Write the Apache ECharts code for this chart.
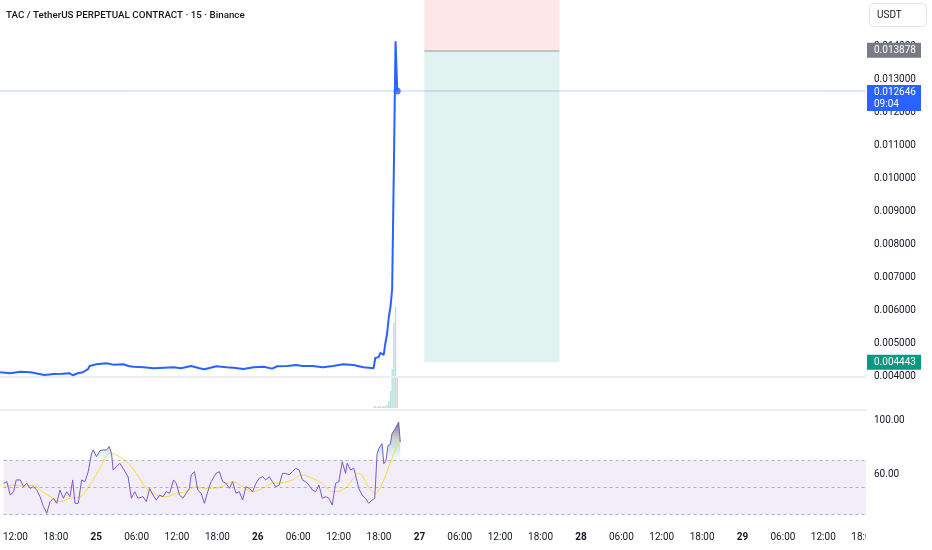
<!DOCTYPE html>
<html><head><meta charset="utf-8">
<script src="https://cdn.jsdelivr.net/npm/echarts@6/dist/echarts.min.js"></script>
<style>html,body{margin:0;padding:0;background:#fff}#c{width:932px;height:550px}</style>
</head><body><div id="c"></div>
<script>
// time unit: hours since 24th 00:00 (15-minute bars)
const titleText = 'TAC / TetherUS PERPETUAL CONTRACT \u00b7 15 \u00b7 Binance';
const priceHours = [10.25, 11.75, 13.25, 14.75, 16.25, 16.75, 18.25, 19.5, 20.5, 21, 21.75, 22.5, 23.25, 23.5, 24.5, 26, 27, 28.5, 29.25, 30, 31.5, 33, 34.5, 36, 37, 38.5, 39.75, 40.5, 42.25, 43.75, 44.75, 46.25, 47.75, 49.25, 50.5, 51.25, 52.75, 54, 55, 56.5, 58, 59.5, 61, 62.5, 64, 65.5, 65.75, 66.25, 66.5, 66.75, 67, 67.25, 67.5, 67.75, 68, 68.25, 68.5, 68.75, 69];
const prices = [0.004142, 0.004112, 0.004160, 0.004142, 0.004082, 0.004060, 0.004091, 0.004100, 0.004112, 0.004051, 0.004112, 0.004142, 0.004233, 0.004332, 0.004384, 0.004414, 0.004372, 0.004384, 0.004332, 0.004311, 0.004293, 0.004263, 0.004281, 0.004293, 0.004263, 0.004332, 0.004263, 0.004233, 0.004323, 0.004293, 0.004281, 0.004242, 0.004293, 0.004311, 0.004251, 0.004323, 0.004332, 0.004363, 0.004332, 0.004332, 0.004293, 0.004332, 0.004384, 0.004363, 0.004293, 0.004263, 0.004574, 0.004600, 0.004725, 0.004725, 0.004665, 0.005027, 0.005299, 0.005813, 0.006115, 0.006659, 0.010314, 0.014151, 0.012646];
const volHours = [65.5, 65.75, 66, 66.25, 66.5, 66.75, 67, 67.25, 67.5, 67.75, 68, 68.25, 68.5, 68.75, 69];
const volumes = [1, 2, 1, 2, 2, 1, 2, 2, 3, 7, 17, 39, 85, 101, 30];
const volDown = [0, 0, 1, 0, 0, 1, 0, 0, 0, 0, 0, 0, 0, 0, 1];
const rsiHours = [10.24, 10.73, 11.23, 11.72, 12.11, 12.71, 13.20, 13.69, 14.18, 14.68, 15.17, 15.66, 16.16, 16.65, 17.14, 17.64, 18.13, 18.62, 19.12, 19.61, 20.10, 20.50, 20.84, 21.33, 21.83, 22.32, 22.81, 23.31, 23.55, 24.05, 24.54, 25.03, 25.53, 25.92, 26.27, 26.51, 27.00, 27.50, 27.99, 28.73, 29.22, 29.72, 30.21, 30.95, 31.44, 31.94, 32.43, 32.92, 33.42, 33.91, 34.40, 34.90, 35.49, 35.88, 36.37, 36.87, 37.36, 37.85, 38.10, 38.59, 39.09, 39.58, 40.07, 40.57, 41.06, 41.80, 42.29, 42.78, 43.28, 43.77, 44.26, 44.76, 45.25, 45.74, 46.24, 46.73, 47.22, 47.72, 48.21, 48.70, 49.19, 49.69, 50.18, 50.67, 51.17, 51.66, 52.15, 52.65, 53.14, 53.63, 54.13, 54.62, 55.11, 55.60, 56.10, 56.59, 57.08, 57.58, 58.07, 58.56, 59.06, 59.55, 60.04, 60.54, 61.03, 61.28, 61.77, 62.26, 62.51, 63.00, 63.49, 63.99, 64.48, 64.97, 65.37, 65.71, 65.97, 66.46, 66.71, 67.05, 67.34, 67.68, 67.93, 68.42, 68.92, 69.16];
const rsiValues = [53.1, 54.3, 44.4, 46.9, 55.6, 55.6, 50.6, 53.1, 49.4, 50.6, 48.1, 43.2, 35.8, 30.9, 39.5, 42.0, 38.3, 48.1, 42.0, 46.9, 43.2, 55.6, 38.3, 38.3, 55.6, 54.3, 61.7, 75.3, 77.8, 72.8, 77.3, 77.8, 77.8, 80.3, 75.3, 63.0, 65.4, 67.9, 64.2, 58.0, 42.0, 46.9, 42.0, 43.2, 39.5, 49.4, 44.4, 40.7, 44.4, 43.2, 46.9, 45.7, 55.6, 53.1, 44.4, 42.0, 45.7, 49.4, 59.3, 61.7, 48.1, 45.7, 38.3, 46.9, 54.3, 60.5, 61.7, 54.3, 53.1, 49.4, 54.3, 45.7, 46.9, 40.7, 50.6, 49.4, 46.9, 53.1, 56.8, 58.0, 55.6, 58.0, 54.3, 50.6, 51.8, 60.5, 60.5, 59.3, 61.7, 64.2, 63.0, 55.6, 54.3, 51.8, 48.1, 46.9, 51.8, 42.0, 43.2, 42.0, 37.0, 53.1, 54.3, 69.1, 60.5, 67.9, 63.0, 64.2, 59.3, 49.4, 44.4, 42.0, 38.3, 40.7, 42.0, 74.6, 78.8, 82.5, 67.6, 70.1, 81.2, 82.0, 89.9, 93.6, 98.5, 83.7];
const maHours = [10.24, 11.72, 13.20, 14.68, 15.66, 17.14, 18.62, 20.10, 21.58, 23.06, 24.54, 26.02, 27.00, 28.48, 29.96, 31.44, 32.92, 34.40, 35.88, 37.36, 38.84, 40.32, 42.29, 44.26, 45.74, 47.22, 48.70, 50.18, 51.66, 53.14, 54.62, 56.10, 57.58, 59.06, 60.54, 62.02, 63.00, 63.50, 64.45, 65.47, 66.46, 67.44, 68.18, 68.92, 69.16];
const maValues = [50.6, 51.8, 51.0, 51.8, 48.1, 43.2, 39.5, 42.0, 43.2, 51.8, 64.2, 75.3, 74.0, 69.1, 60.5, 49.4, 44.4, 43.2, 45.7, 46.9, 50.6, 49.4, 50.0, 54.3, 50.6, 46.9, 49.4, 53.1, 53.6, 55.6, 59.3, 56.8, 53.1, 46.9, 48.1, 55.6, 60.5, 59.0, 50.4, 45.9, 52.9, 65.2, 75.0, 82.5, 84.2];
const xTicks = [12, 18, 24, 30, 36, 42, 48, 54, 60, 66, 72, 78, 84, 90, 96, 102, 108, 114, 120, 126, 132, 138];
const priceTicks = [0.004, 0.005, 0.006, 0.007, 0.008, 0.009, 0.010, 0.011, 0.012, 0.013, 0.014];
const rsiTicks = [60, 100];
const rsiLevels = [70, 50, 30];
const entryPrice = 0.013878, targetPrice = 0.004443, stopPrice = 0.0160;
const guidePrice = 0.004;
const boxHours = [73, 93];
const countdown = '09:04';
const quote = 'USDT';

const X_MIN = 10.24, X_MAX = 138.34;
const P_MIN = 0.003, P_MAX = 0.0154;
const lastH = priceHours[priceHours.length - 1], lastP = prices[prices.length - 1];
const FONT = 'Roboto, "Noto Sans", sans-serif';
const TXT = '#131722';

const chart = echarts.init(document.getElementById('c'));
const zip = (a, b) => a.map((v, i) => [v, b[i]]);
const xAxisBase = {type: 'value', min: X_MIN, max: X_MAX, splitLine: {show: false}, axisTick: {show: false}};

chart.setOption({
  animation: false,
  backgroundColor: '#fff',
  grid: [
    {left: 0, right: 66, top: 0, height: 410},
    {left: 0, right: 66, top: 307, height: 101},
    {left: 0, right: 66, top: 410, height: 110}
  ],
  xAxis: [
    Object.assign({}, xAxisBase, {gridIndex: 0, axisLabel: {show: false}, axisLine: {show: true, lineStyle: {color: '#eceef2', width: 2}}}),
    Object.assign({}, xAxisBase, {gridIndex: 1, show: false}),
    Object.assign({}, xAxisBase, {gridIndex: 2, axisLine: {show: false},
      axisLabel: {customValues: xTicks, margin: 12, fontSize: 10, fontFamily: FONT, color: TXT,
        formatter: v => (v % 24 === 0) ? '{b|' + (24 + v / 24) + '}' : String(v % 24).padStart(2, '0') + ':00',
        rich: {b: {fontWeight: 'bold', fontSize: 10, fontFamily: FONT, color: TXT}}}})
  ],
  yAxis: [
    {type: 'value', gridIndex: 0, position: 'right', min: P_MIN, max: P_MAX, splitLine: {show: false}, axisLine: {show: false}, axisTick: {show: false},
      axisLabel: {customValues: priceTicks, margin: 8, fontSize: 10, fontFamily: FONT, color: TXT, formatter: v => v.toFixed(6)}},
    {type: 'value', gridIndex: 1, min: 0, max: Math.max(...volumes), show: false},
    {type: 'value', gridIndex: 2, position: 'right', min: 25.93, max: 107.41, splitLine: {show: false}, axisLine: {show: false}, axisTick: {show: false},
      axisLabel: {customValues: rsiTicks, margin: 8, fontSize: 10, fontFamily: FONT, color: TXT, formatter: v => v.toFixed(2)}}
  ],
  series: [
    {type: 'line', xAxisIndex: 0, yAxisIndex: 0, data: [[X_MIN, lastP], [X_MAX, lastP]], showSymbol: false, symbol: 'none',
      lineStyle: {color: 'rgba(41,98,255,0.3)', width: 1}, z: 3, silent: true},
    {type: 'line', xAxisIndex: 0, yAxisIndex: 0, data: zip(priceHours, prices), showSymbol: false, symbol: 'none',
      lineStyle: {color: '#2962FF', width: 2}, z: 5, silent: true,
      markArea: {silent: true, data: [
        [{xAxis: boxHours[0], yAxis: entryPrice, itemStyle: {color: 'rgba(242,54,69,0.12)'}}, {xAxis: boxHours[1], yAxis: Math.min(stopPrice, P_MAX)}],
        [{xAxis: boxHours[0], yAxis: targetPrice, itemStyle: {color: 'rgba(8,153,129,0.12)'}}, {xAxis: boxHours[1], yAxis: entryPrice}]
      ]},
      markLine: {silent: true, precision: 6, symbol: ['none', 'none'], label: {show: false}, data: [
        {yAxis: guidePrice, lineStyle: {color: '#eceef1', type: 'solid', width: 2}},
        [{coord: [boxHours[0], entryPrice], lineStyle: {color: 'rgba(150,140,145,0.6)', type: 'solid', width: 1.5}}, {coord: [boxHours[1], entryPrice]}]
      ]}
    },
    {type: 'scatter', xAxisIndex: 0, yAxisIndex: 0, data: [[lastH, lastP]], symbolSize: 7, itemStyle: {color: '#2962FF'}, z: 6, silent: true},
    {type: 'bar', xAxisIndex: 1, yAxisIndex: 1, barWidth: 1.3, silent: true, z: 1,
      data: volHours.map((h, i) => ({value: [h, volumes[i]], itemStyle: {color: volDown[i] ? 'rgba(239,83,80,0.35)' : 'rgba(38,166,154,0.35)'}}))},
    {type: 'line', xAxisIndex: 2, yAxisIndex: 2, data: zip(rsiHours, rsiValues.map(v => Math.max(v, 70))), showSymbol: false, symbol: 'none',
      lineStyle: {width: 0}, silent: true, z: 2,
      areaStyle: {origin: 70, opacity: 1, color: new echarts.graphic.LinearGradient(0, 0, 0, 1, [
        {offset: 0, color: 'rgba(95,95,100,0.9)'}, {offset: 0.45, color: 'rgba(170,175,175,0.55)'},
        {offset: 0.7, color: 'rgba(38,166,154,0.22)'}, {offset: 1, color: 'rgba(38,166,154,0.04)'}])},
      markArea: {silent: true, itemStyle: {color: 'rgba(126,87,194,0.1)'}, data: [[{yAxis: 30}, {yAxis: 70}]]},
      markLine: {silent: true, precision: 2, symbol: ['none', 'none'], label: {show: false},
        lineStyle: {color: 'rgba(120,123,134,0.55)', type: [3, 3], width: 1},
        data: rsiLevels.map(v => ({yAxis: v}))}
    },
    {type: 'line', xAxisIndex: 2, yAxisIndex: 2, data: zip(rsiHours, rsiValues), showSymbol: false, symbol: 'none',
      lineStyle: {color: '#7E57C2', width: 1}, z: 4, silent: true},
    {type: 'line', xAxisIndex: 2, yAxisIndex: 2, data: zip(maHours, maValues), showSymbol: false, symbol: 'none', smooth: 0.4,
      lineStyle: {color: '#FDD835', width: 1}, z: 3, silent: true}
  ]
});

const py = v => chart.convertToPixel({yAxisIndex: 0}, v);
const yE = py(entryPrice), yL = py(lastP), yT = py(targetPrice);
const tagText = (t, x, y) => ({type: 'text', z: 101, style: {x: x, y: y, text: t, fill: '#fff', font: '10px ' + FONT, verticalAlign: 'middle'}});
chart.setOption({graphic: [
  {type: 'text', left: 6, top: 11, z: 100, style: {text: titleText, fill: TXT, font: '500 9.8px ' + FONT}},
  {type: 'rect', z: 100, shape: {x: 869.5, y: 3.5, width: 57, height: 23, r: 4}, style: {fill: '#fff', stroke: '#e0e3eb', lineWidth: 1}},
  {type: 'text', z: 101, style: {x: 877, y: 15, text: quote, fill: TXT, font: '10px ' + FONT, verticalAlign: 'middle'}},
  {type: 'rect', z: 100, shape: {x: 866, y: 523, width: 66, height: 27}, style: {fill: '#fff'}},
  {type: 'rect', z: 100, shape: {x: 867, y: yE - 7.5, width: 54, height: 15}, style: {fill: '#787B86'}},
  tagText(entryPrice.toFixed(6), 874, yE),
  {type: 'rect', z: 100, shape: {x: 867, y: yL - 6, width: 54, height: 26}, style: {fill: '#2962FF'}},
  tagText(lastP.toFixed(6), 874, yL + 1),
  tagText(countdown, 874, yL + 13),
  {type: 'rect', z: 100, shape: {x: 867, y: yT - 7.5, width: 54, height: 15}, style: {fill: '#089981'}},
  tagText(targetPrice.toFixed(6), 874, yT)
]});
</script></body></html>
